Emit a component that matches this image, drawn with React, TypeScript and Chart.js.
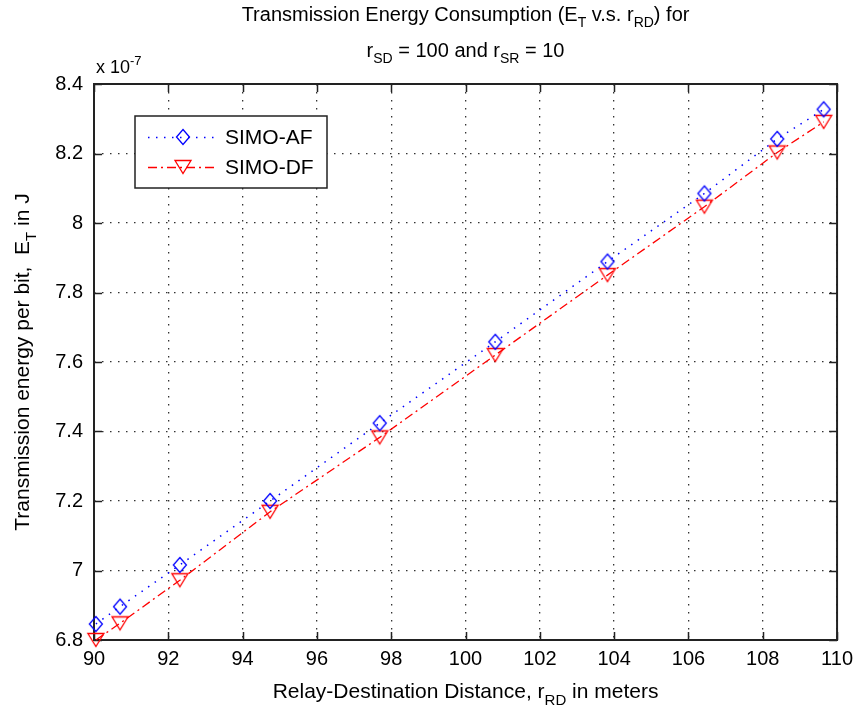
import React, { useEffect, useRef } from 'react';
import { Chart, registerables } from 'chart.js';

Chart.register(...registerables);

// ---- data (energy in units of 1e-7 J) ----
const relayDistance = [90.05, 90.7, 92.31, 94.74, 97.69, 100.8, 103.82, 106.43, 108.39, 109.64];
const simoAF = [6.846, 6.896, 7.016, 7.2, 7.424, 7.658, 7.889, 8.085, 8.242, 8.327];
const simoDF = [6.8, 6.848, 6.972, 7.169, 7.383, 7.62, 7.85, 8.047, 8.203, 8.291];
const xTickValues = [90, 92, 94, 96, 98, 100, 102, 104, 106, 108, 110];
const yTickValues = [6.8, 7, 7.2, 7.4, 7.6, 7.8, 8, 8.2, 8.4];
const seriesNames = ['SIMO-AF', 'SIMO-DF'];

const FONT = "'Liberation Sans', Arial, Helvetica, sans-serif";
const BLUE = '#0000ff';
const RED = '#ff0000';

type Seg = [string, number]; // 0 normal, 1 sub, 2 sup

function drawRich(ctx: CanvasRenderingContext2D, segs: Seg[], x: number, y: number, size: number, align: 'center' | 'left' = 'center') {
  const small = Math.round(size * 0.72);
  let total = 0;
  const widths: number[] = [];
  for (const [t, m] of segs) {
    ctx.font = `${m ? small : size}px ${FONT}`;
    const w = ctx.measureText(t).width;
    widths.push(w);
    total += w;
  }
  let cx = align === 'center' ? x - total / 2 : x;
  ctx.textBaseline = 'alphabetic';
  ctx.textAlign = 'left';
  segs.forEach(([t, m], i) => {
    ctx.font = `${m ? small : size}px ${FONT}`;
    const dy = m === 1 ? size * 0.32 : m === 2 ? -size * 0.42 : 0;
    ctx.fillText(t, cx, y + dy);
    cx += widths[i];
  });
}

function makeDiamond(): HTMLCanvasElement {
  const c = document.createElement('canvas');
  c.width = 18;
  c.height = 20;
  const g = c.getContext('2d')!;
  g.strokeStyle = BLUE;
  g.lineWidth = 1.3;
  g.beginPath();
  g.moveTo(9, 2.5);
  g.lineTo(15.5, 10);
  g.lineTo(9, 17.5);
  g.lineTo(2.5, 10);
  g.closePath();
  g.stroke();
  return c;
}

function makeTriangle(): HTMLCanvasElement {
  const c = document.createElement('canvas');
  c.width = 20;
  c.height = 18;
  const g = c.getContext('2d')!;
  g.strokeStyle = RED;
  g.lineWidth = 1.3;
  g.beginPath();
  g.moveTo(2, 2.5);
  g.lineTo(18, 2.5);
  g.lineTo(10, 15.5);
  g.closePath();
  g.stroke();
  return c;
}

export default function App() {
  const ref = useRef<HTMLCanvasElement | null>(null);

  useEffect(() => {
    const canvas = ref.current!;
    const diamond = makeDiamond();
    const triangle = makeTriangle();
    const TICK_LEN = 8;

    const framePlugin = {
      id: 'matlabFrame',
      beforeDatasetsDraw(chart: any) {
        const { ctx, chartArea: a, scales } = chart;
        ctx.save();
        ctx.strokeStyle = '#222';
        ctx.lineWidth = 1.5;
        ctx.beginPath();
        for (const v of xTickValues) {
          const px = Math.round(scales.x.getPixelForValue(v)) + 0.5;
          ctx.moveTo(px, a.bottom);
          ctx.lineTo(px, a.bottom - TICK_LEN);
          ctx.moveTo(px, a.top);
          ctx.lineTo(px, a.top + TICK_LEN);
        }
        for (const v of yTickValues) {
          const py = Math.round(scales.y.getPixelForValue(v)) + 0.5;
          ctx.moveTo(a.left, py);
          ctx.lineTo(a.left + TICK_LEN, py);
          ctx.moveTo(a.right, py);
          ctx.lineTo(a.right - TICK_LEN, py);
        }
        ctx.stroke();
        ctx.lineWidth = 2;
        ctx.strokeRect(a.left, a.top, a.right - a.left, a.bottom - a.top);
        ctx.restore();
      },
      afterDraw(chart: any) {
        const { ctx, chartArea: a } = chart;
        ctx.save();
        ctx.fillStyle = '#000';
        const cx = (a.left + a.right) / 2;
        // title
        drawRich(ctx, [['Transmission Energy Consumption (E', 0], ['T', 1], [' v.s. r', 0], ['RD', 1], [') for', 0]], cx, 21, 20);
        drawRich(ctx, [['r', 0], ['SD', 1], [' = 100 and r', 0], ['SR', 1], [' = 10', 0]], cx, 57, 20);
        // exponent
        drawRich(ctx, [['x 10', 0], ['-7', 2]], 96, 73, 18, 'left');
        // x label
        drawRich(ctx, [['Relay-Destination Distance, r', 0], ['RD', 1], [' in meters', 0]], cx, 698, 21);
        // y label
        ctx.save();
        ctx.translate(29, (a.top + a.bottom) / 2);
        ctx.rotate(-Math.PI / 2);
        drawRich(ctx, [['Transmission energy per bit,  E', 0], ['T', 1], [' in J', 0]], 0, 0, 21);
        ctx.restore();

        // legend
        const lx = 135, ly = 116, lw = 192, lh = 72;
        ctx.fillStyle = '#fff';
        ctx.fillRect(lx, ly, lw, lh);
        ctx.strokeStyle = '#222';
        ctx.lineWidth = 1.5;
        ctx.strokeRect(lx, ly, lw, lh);
        const rows = [
          { y: 137, color: BLUE, dash: [1.5, 6.5], img: diamond },
          { y: 167, color: RED, dash: [9, 4, 2, 4], img: triangle },
        ];
        rows.forEach((r, i) => {
          ctx.strokeStyle = r.color;
          ctx.lineWidth = 1.5;
          ctx.setLineDash(r.dash);
          ctx.beginPath();
          ctx.moveTo(148, r.y + 0.5);
          ctx.lineTo(218, r.y + 0.5);
          ctx.stroke();
          ctx.setLineDash([]);
          ctx.drawImage(r.img, 183 - r.img.width / 2, r.y - r.img.height / 2);
          ctx.fillStyle = '#000';
          ctx.font = `21px ${FONT}`;
          ctx.textAlign = 'left';
          ctx.textBaseline = 'middle';
          ctx.fillText(seriesNames[i], 225, r.y + 1);
        });
        ctx.restore();
      },
    };

    const tickFont = { family: FONT, size: 20 };

    const chart = new Chart(canvas, {
      type: 'line',
      data: {
        datasets: [
          {
            label: seriesNames[0],
            data: relayDistance.map((x, i) => ({ x, y: simoAF[i] })),
            borderColor: BLUE,
            borderWidth: 1.5,
            borderDash: [1.5, 6.5],
            pointStyle: diamond as any,
            pointRadius: 8,
            fill: false,
            tension: 0,
            clip: false as any,
          },
          {
            label: seriesNames[1],
            data: relayDistance.map((x, i) => ({ x, y: simoDF[i] })),
            borderColor: RED,
            borderWidth: 1.3,
            borderDash: [9, 4, 2, 4],
            pointStyle: triangle as any,
            pointRadius: 8,
            fill: false,
            tension: 0,
            clip: false as any,
          },
        ],
      },
      options: {
        animation: false,
        responsive: false,
        devicePixelRatio: 1,
        layout: { padding: { left: 0, top: 84, right: 20, bottom: 0 } },
        plugins: { legend: { display: false }, title: { display: false }, tooltip: { enabled: false } },
        scales: {
          x: {
            type: 'linear',
            min: 90,
            max: 110,
            afterBuildTicks: (s: any) => { s.ticks = xTickValues.map((v) => ({ value: v })); },
            afterFit: (s: any) => { s.height = 71; },
            ticks: { font: tickFont, color: '#000', padding: 7, maxRotation: 0, autoSkip: false, callback: (v: any) => String(v) },
            grid: { color: '#333', lineWidth: 1.3, drawTicks: false },
            border: { display: false, dash: [1.5, 6.5] },
          },
          y: {
            type: 'linear',
            min: 6.8,
            max: 8.4,
            afterBuildTicks: (s: any) => { s.ticks = yTickValues.map((v) => ({ value: v })); },
            afterFit: (s: any) => { s.width = 94; },
            ticks: { font: tickFont, color: '#000', padding: 11, autoSkip: false, callback: (v: any) => String(Number(Number(v).toFixed(1))) },
            grid: { color: '#333', lineWidth: 1.3, drawTicks: false },
            border: { display: false, dash: [1.5, 6.5] },
          },
        },
      },
      plugins: [framePlugin],
    } as any);

    return () => chart.destroy();
  }, []);

  return (
    <div style={{ position: 'fixed', left: 0, top: 0, width: 860, height: 711, background: '#fff' }}>
      <canvas ref={ref} width={860} height={711} style={{ width: 860, height: 711, display: 'block' }} />
    </div>
  );
}
